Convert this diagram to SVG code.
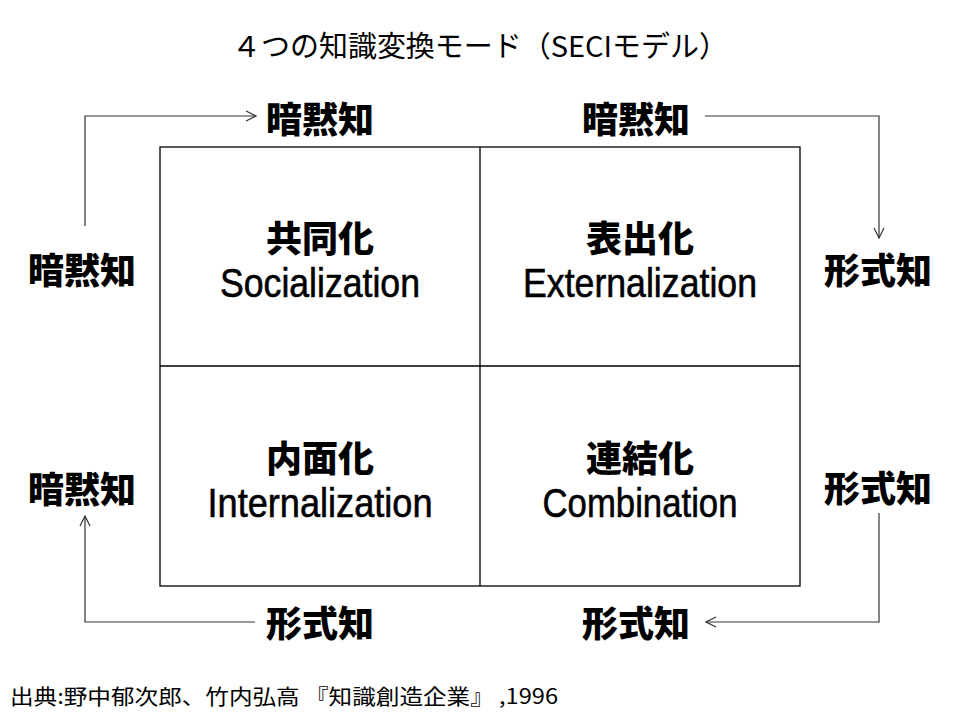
<svg xmlns="http://www.w3.org/2000/svg" width="960" height="720" viewBox="0 0 960 720">
<defs>
<style>
.jp{font-family:"Noto Sans CJK JP","Noto Sans CJK SC",sans-serif;font-weight:900;font-size:36px;fill:#000;text-anchor:middle}
.en{font-family:"Liberation Sans","DejaVu Sans",sans-serif;font-size:41px;fill:#000;stroke:#000;stroke-width:0.6;text-anchor:middle}
.title{font-family:"Noto Sans CJK JP",sans-serif;font-size:29px;fill:#000;text-anchor:middle}
.foot{font-family:"Noto Sans CJK JP",sans-serif;font-size:21px;fill:#000}
.grid{fill:none;stroke:#000;stroke-width:1.3}
.conn{fill:none;stroke:#333;stroke-width:1.2;marker-end:url(#arr)}
</style>
<marker id="arr" viewBox="0 0 12 12" refX="11" refY="6" markerWidth="12" markerHeight="12" markerUnits="userSpaceOnUse" orient="auto">
<path d="M1,1 L11,6 L1,11" fill="none" stroke="#333" stroke-width="1.2"/>
</marker>
</defs>
<rect width="960" height="720" fill="#fff"/>
<text class="title" x="480" y="57" textLength="496" lengthAdjust="spacingAndGlyphs">４つの知識変換モード（SECIモデル）</text>
<g id="grid">
<rect class="grid" x="160" y="147" width="640" height="439"/>
<line class="grid" x1="480" y1="147" x2="480" y2="586"/>
<line class="grid" x1="160" y1="366" x2="800" y2="366"/>
</g>
<g id="socialization">
<text class="jp" x="320" y="252">共同化</text>
<text class="en" x="320" y="297" textLength="200" lengthAdjust="spacingAndGlyphs">Socialization</text>
</g>
<g id="externalization">
<text class="jp" x="640" y="252">表出化</text>
<text class="en" x="640" y="297" textLength="234" lengthAdjust="spacingAndGlyphs">Externalization</text>
</g>
<g id="internalization">
<text class="jp" x="320" y="472">内面化</text>
<text class="en" x="320" y="517" textLength="225" lengthAdjust="spacingAndGlyphs">Internalization</text>
</g>
<g id="combination">
<text class="jp" x="640" y="472">連結化</text>
<text class="en" x="640" y="517" textLength="195" lengthAdjust="spacingAndGlyphs">Combination</text>
</g>
<g id="labels">
<text id="top-left" class="jp" x="320" y="133">暗黙知</text>
<text id="top-right" class="jp" x="636" y="133">暗黙知</text>
<text id="left-top" class="jp" x="82" y="284">暗黙知</text>
<text id="right-top" class="jp" x="878" y="284">形式知</text>
<text id="left-bottom" class="jp" x="82" y="503">暗黙知</text>
<text id="right-bottom" class="jp" x="878" y="502">形式知</text>
<text id="bottom-left" class="jp" x="320" y="637">形式知</text>
<text id="bottom-right" class="jp" x="636" y="637">形式知</text>
</g>
<g id="connectors">
<path class="conn" d="M85,226 V116 H256"/>
<path class="conn" d="M705,116 H879 V238"/>
<path class="conn" d="M879,513 V622 H706"/>
<path class="conn" d="M255,622 H85 V516"/>
</g>
<text class="foot" x="10" y="704" textLength="548" lengthAdjust="spacingAndGlyphs">出典:野中郁次郎、竹内弘高 『知識創造企業』 ,1996</text>
</svg>
